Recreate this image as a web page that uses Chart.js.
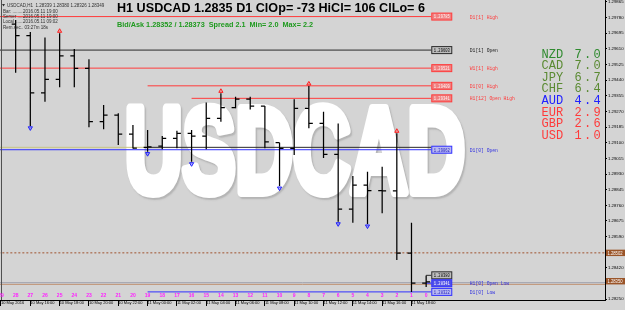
<!DOCTYPE html>
<html>
<head>
<meta charset="utf-8">
<script src="https://cdn.jsdelivr.net/npm/chart.js@4.4.0/dist/chart.umd.min.js"></script>
<style>
  html, body { margin: 0; padding: 0; background: #d4d4d4; }
  #wrap { width: 625px; height: 310px; }
</style>
</head>
<body>
<div id="wrap"><canvas id="chart" width="625" height="310"></canvas></div>
<script>
// H1 bars, oldest (bar 28) to newest (bar 0)
const barNumbers = [28, 27, 26, 25, 24, 23, 22, 21, 20, 19, 18, 17, 16, 15, 14, 13, 12, 11, 10, 9, 8, 7, 6, 5, 4, 3, 2, 1, 0];
const opens  = [1.29744, 1.29681, 1.29371, 1.29444, 1.29571, 1.29504, 1.29214, 1.29250, 1.29147, 1.29075, 1.29082, 1.29124, 1.29151, 1.29136, 1.29232, 1.29290, 1.29337, 1.29299, 1.29100, 1.29070, 1.29287, 1.29205, 1.29037, 1.28739, 1.28870, 1.28840, 1.28838, 1.28500, 1.28337];
const highs  = [1.29766, 1.29701, 1.29672, 1.29694, 1.29609, 1.29553, 1.29305, 1.29260, 1.29196, 1.29169, 1.29136, 1.29165, 1.29169, 1.29318, 1.29368, 1.29350, 1.29350, 1.29299, 1.29100, 1.29336, 1.29408, 1.29268, 1.29205, 1.28919, 1.28943, 1.28970, 1.29151, 1.28666, 1.28379];
const lows   = [1.29480, 1.29191, 1.29323, 1.29401, 1.29401, 1.29184, 1.29173, 1.29088, 1.29068, 1.29051, 1.29064, 1.29070, 1.28997, 1.29064, 1.29214, 1.29287, 1.29281, 1.29070, 1.28865, 1.29033, 1.29178, 1.29017, 1.28671, 1.28666, 1.28659, 1.28717, 1.28463, 1.28290, 1.28317];
const closes = [1.29681, 1.29371, 1.29444, 1.29571, 1.29504, 1.29214, 1.29250, 1.29147, 1.29071, 1.29077, 1.29124, 1.29151, 1.29136, 1.29232, 1.29290, 1.29337, 1.29299, 1.29105, 1.29070, 1.29287, 1.29205, 1.29037, 1.28739, 1.28870, 1.28840, 1.28838, 1.28500, 1.28337, 1.28344];

// fractal arrows
const fractalUpBars = [25, 14, 8, 2];
const fractalUpPrices = [1.29706, 1.29380, 1.29420, 1.29163];
const fractalDownBars = [27, 19, 16, 10, 6, 4];
const fractalDownPrices = [1.29180, 1.29040, 1.28985, 1.28853, 1.28659, 1.28647];

// time axis (every 2nd bar, counted from bar 29)
const timeTickBars = [29, 27, 25, 23, 21, 19, 17, 15, 13, 11, 9, 7, 5, 3, 1];
const timeLabels = ['10 May 2016', '10 May 16:00', '10 May 18:00', '10 May 20:00', '10 May 22:00', '11 May 00:00', '11 May 02:00', '11 May 04:00', '11 May 06:00', '11 May 08:00', '11 May 10:00', '11 May 12:00', '11 May 14:00', '11 May 16:00', '11 May 18:00'];

// price axis
const priceTicks = [1.29865, 1.29780, 1.29695, 1.29610, 1.29525, 1.29440, 1.29355, 1.29270, 1.29185, 1.29100, 1.29015, 1.28930, 1.28845, 1.28760, 1.28675, 1.28590, 1.28420, 1.28250];

// level lines (start bar, -1 = from the left edge)
const levelNames  = ['D1[1] High', 'D1[1] Open', 'W1[1] High', 'D1[0] High', 'H1[12] Open High', 'D1[0] Open', '', 'H1[0] Open Low', 'D1[0] Low'];
const levelPrices = [1.29785, 1.29603, 1.29505, 1.29409, 1.29341, 1.29062, 1.28380, 1.28337, 1.28290];
const levelTexts  = ['1.29785', '1.29603', '1.29521', '1.29409', '1.29341', '1.29062', '1.28380', '1.28341', '1.28322'];
const levelStart  = [-1, -1, -1, 19, 16, -1, 0, 0, 19];
const levelKind   = ['red', 'black', 'red', 'red', 'red', 'blue', 'black', 'blueFill', 'blue'];

// other horizontal lines
const prevDayOpenLine = 1.29075;
const prevCloseLine = 1.28502;
const bidLine = 1.28340;
const askLine = 1.28331;
const bidLabel = '1.28350';

// currency strength
const currencies = ['NZD', 'CAD', 'JPY', 'CHF', 'AUD', 'EUR', 'GBP', 'USD'];
const strengths  = [7.0, 7.0, 6.7, 6.4, 4.4, 2.9, 2.6, 1.0];

const pos = n => 29 - n;   // bar number -> x value
const TICK = 0.27;
const LINE_END = 29.35;

const wickData = [];
const tickData = [];
barNumbers.forEach((n, k) => {
    const x = pos(n);
    wickData.push({x: x, y: lows[k]}, {x: x, y: highs[k]}, {x: x, y: null});
    tickData.push({x: x - TICK, y: opens[k]}, {x: x, y: opens[k]}, {x: x, y: null},
                  {x: x, y: closes[k]}, {x: x + TICK, y: closes[k]}, {x: x, y: null});
});

const colors = {red: '#ff3b3b', black: '#2a2a2a', blue: '#3030ff', blueFill: '#3030ff'};

const levelSets = levelPrices.map((p, k) => ({
    type: 'line',
    data: [{x: levelStart[k] < 0 ? -1 : pos(levelStart[k]), y: p}, {x: LINE_END, y: p}],
    borderColor: colors[levelKind[k]],
    borderWidth: 1,
    pointRadius: 0
}));

const extraSets = [
    {type: 'line', data: [{x: -1, y: prevDayOpenLine}, {x: pos(19), y: prevDayOpenLine}], borderColor: '#c8c482', borderWidth: 1, pointRadius: 0},
    {type: 'line', data: [{x: pos(19), y: prevDayOpenLine}, {x: LINE_END, y: prevDayOpenLine}], borderColor: '#2a2a2a', borderWidth: 1, pointRadius: 0},
    {type: 'line', data: [{x: -1, y: prevCloseLine}, {x: 45, y: prevCloseLine}], borderColor: '#a0522d', borderWidth: 1, borderDash: [2, 2], pointRadius: 0},
    {type: 'line', data: [{x: -1, y: bidLine}, {x: 45, y: bidLine}], borderColor: '#9ea0ad', borderWidth: 1, pointRadius: 0},
    {type: 'line', data: [{x: -1, y: askLine}, {x: 45, y: askLine}], borderColor: '#c09070', borderWidth: 1, pointRadius: 0}
];

const watermark = {
    id: 'watermark',
    beforeDatasetsDraw(chart) {
        const ctx = chart.ctx;
        ctx.save();
        ctx.font = 'bold 120px "Liberation Sans", Arial, sans-serif';
        const w = ctx.measureText('USDCAD').width;
        ctx.translate(125, 192);
        ctx.scale(340 / w, 1);
        ctx.lineJoin = 'round';
        ctx.lineWidth = 10;
        ctx.strokeStyle = '#ffffff';
        ctx.fillStyle = '#ffffff';
        ctx.shadowColor = 'rgba(120,120,120,0.35)';
        ctx.shadowOffsetX = 1.5;
        ctx.shadowOffsetY = 1.5;
        ctx.shadowBlur = 1.5;
        ctx.strokeText('USDCAD', 0, 0);
        ctx.shadowColor = 'rgba(0,0,0,0)';
        ctx.fillText('USDCAD', 0, 0);
        ctx.restore();
    }
};

function fitText(ctx, text, x, y, width, font, color) {
    ctx.font = font;
    const w = ctx.measureText(text).width;
    ctx.save();
    ctx.translate(x, y);
    ctx.scale(width / w, 1);
    ctx.fillStyle = color;
    ctx.fillText(text, 0, 0);
    ctx.restore();
}

const overlay = {
    id: 'overlay',
    beforeDraw(chart) {
        const ctx = chart.ctx;
        ctx.save();
        ctx.fillStyle = '#d4d4d4';
        ctx.fillRect(0, 0, chart.width, chart.height);
        ctx.restore();
    },
    afterDraw(chart) {
        const ctx = chart.ctx;
        const xs = chart.scales.x, ys = chart.scales.y;
        ctx.save();
        ctx.textBaseline = 'alphabetic';

        // left frame
        ctx.strokeStyle = '#505050';
        ctx.beginPath(); ctx.moveTo(1.5, 0); ctx.lineTo(1.5, 300); ctx.stroke();

        // title and bid/ask
        fitText(ctx, 'H1 USDCAD 1.2835 D1 ClOp= -73 HiCl= 106 ClLo= 6', 117, 11.5, 308, 'bold 13px "Liberation Sans", Arial', '#000');
        fitText(ctx, 'Bid/Ask 1.28352 / 1.28373  Spread 2.1  Min= 2.0  Max= 2.2', 117, 26.5, 196, 'bold 7px "Liberation Sans", Arial', '#1f9a1f');

        // top-left info block
        ctx.fillStyle = '#303030';
        ctx.beginPath(); ctx.moveTo(2, 4); ctx.lineTo(5, 4); ctx.lineTo(3.5, 6.5); ctx.closePath(); ctx.fill();
        ctx.font = '4.5px "Liberation Sans", Arial';
        ctx.fillText('USDCAD,H1  1.28339 1.28380 1.28326 1.28349', 7, 7);
        ctx.fillText('Bar: ..........', 3, 12.5);
        ctx.fillText('2016.05.11 19:00', 23, 12.5);
        ctx.fillText('Server .......', 3, 17.5);
        ctx.fillText('2016.05.11 19:00', 23, 17.5);
        ctx.fillText('Local ........', 3, 23);
        ctx.fillText('2016.05.11 09:02', 23, 23);
        ctx.fillText('Rem.sec.. 03:27m 18s', 3, 28.5);

        // level labels
        const bx = xs.getPixelForValue(LINE_END);
        levelPrices.forEach((p, k) => {
            const y = ys.getPixelForValue(p);
            const kind = levelKind[k];
            const c = colors[kind];
            ctx.fillStyle = kind === 'red' ? '#f08080' : kind === 'black' ? '#bdbdbd' : kind === 'blueFill' ? '#5050e8' : '#b8b8f0';
            ctx.fillRect(bx + 0.5, y - 3.5, 20, 7);
            ctx.strokeStyle = c;
            ctx.lineWidth = 1;
            ctx.strokeRect(bx + 0.5, y - 3.5, 20, 7);
            ctx.fillStyle = kind === 'red' ? '#fff2f2' : kind === 'blueFill' ? '#ffffff' : kind === 'blue' ? '#2020c0' : '#000';
            fitText(ctx, levelTexts[k], bx + 2.5, y + 1.8, 16, '5px "Liberation Mono", monospace', ctx.fillStyle);
            if (levelNames[k]) {
                const tc = kind === 'red' ? '#ff3b3b' : kind === 'black' ? '#202020' : '#3030e0';
                ctx.fillStyle = tc;
                ctx.font = '4.7px "Liberation Mono", monospace';
                ctx.fillText(levelNames[k], bx + 38.5, y + 2);
            }
        });

        // price highlight labels on the right axis
        [[prevCloseLine, '1.28502'], [bidLine + 0.00008, bidLabel]].forEach(([p, t]) => {
            const y = ys.getPixelForValue(p);
            ctx.fillStyle = '#9a5428';
            ctx.fillRect(xs.right + 1, y - 3.2, 19, 6.4);
            fitText(ctx, t, xs.right + 2.5, y + 1.7, 15, '4.5px "Liberation Sans", Arial', '#ffffff');
        });

        // bar counters
        ctx.fillStyle = '#ff22ff';
        ctx.font = 'bold 5px "Liberation Sans", Arial';
        ctx.textAlign = 'center';
        for (let n = 29; n >= 0; n--) {
            ctx.fillText(String(n), xs.getPixelForValue(pos(n)), 297);
        }

        // currency strength table
        ctx.textAlign = 'left';
        currencies.forEach((c, k) => {
            const y = 57.5 + k * 11.6;
            const col = k === 0 ? '#2f8a2f' : k < 4 ? '#5a8a32' : k === 4 ? '#2020ff' : '#ff3a3a';
            ctx.fillStyle = col;
            ctx.font = '12px "Liberation Mono", monospace';
            ctx.fillText(c, 541.5, y);
            const s = strengths[k].toFixed(1);
            for (let i = 0; i < s.length; i++) {
                ctx.fillText(s[i], 574.5 + i * 9.5, y);
            }
        });
        ctx.restore();
    }
};

new Chart(document.getElementById('chart'), {
    type: 'line',
    data: {
        datasets: [
            {data: wickData, borderColor: '#000', borderWidth: 1.25, pointRadius: 0, spanGaps: false},
            {data: tickData, borderColor: '#000', borderWidth: 1.25, pointRadius: 0, spanGaps: false},
            {type: 'scatter', data: fractalUpBars.map((n, k) => ({x: pos(n), y: fractalUpPrices[k]})),
             pointStyle: 'triangle', pointRadius: 2.4, borderColor: '#ff2020', backgroundColor: 'rgba(255,80,80,0.35)', borderWidth: 1},
            {type: 'scatter', data: fractalDownBars.map((n, k) => ({x: pos(n), y: fractalDownPrices[k]})),
             pointStyle: 'triangle', rotation: 180, pointRadius: 2.4, borderColor: '#2020ff', backgroundColor: 'rgba(60,60,255,0.35)', borderWidth: 1},
            ...levelSets,
            ...extraSets
        ]
    },
    options: {
        responsive: false,
        animation: false,
        devicePixelRatio: 1,
        layout: {padding: 0, autoPadding: false},
        plugins: {legend: {display: false}, tooltip: {enabled: false}},
        scales: {
            x: {
                type: 'linear',
                min: -0.068,
                max: 41.2,
                afterBuildTicks: s => { s.ticks = timeTickBars.map(n => ({value: pos(n)})); },
                afterFit: s => { s.height = 10; s.paddingLeft = 0; s.paddingRight = 0; },
                grid: {drawOnChartArea: false, color: '#000', tickLength: 6},
                border: {color: '#000'},
                ticks: {
                    autoSkip: false, maxRotation: 0, align: 'start', padding: -6,
                    color: '#000', font: {size: 4, family: '"Liberation Sans", Arial'},
                    callback: (v) => timeLabels[timeTickBars.indexOf(29 - v)] || ''
                }
            },
            y: {
                position: 'right',
                min: 1.28246,
                max: 1.29875,
                afterBuildTicks: s => { s.ticks = priceTicks.map(v => ({value: v})); },
                afterFit: s => { s.width = 20; s.paddingTop = 0; s.paddingBottom = 0; },
                grid: {drawOnChartArea: false, color: '#000', tickLength: 2},
                border: {color: '#000'},
                ticks: {
                    padding: 1, color: '#000', font: {size: 4.3, family: '"Liberation Sans", Arial'},
                    callback: v => v.toFixed(5)
                }
            }
        }
    },
    plugins: [watermark, overlay]
});
</script>
</body>
</html>
